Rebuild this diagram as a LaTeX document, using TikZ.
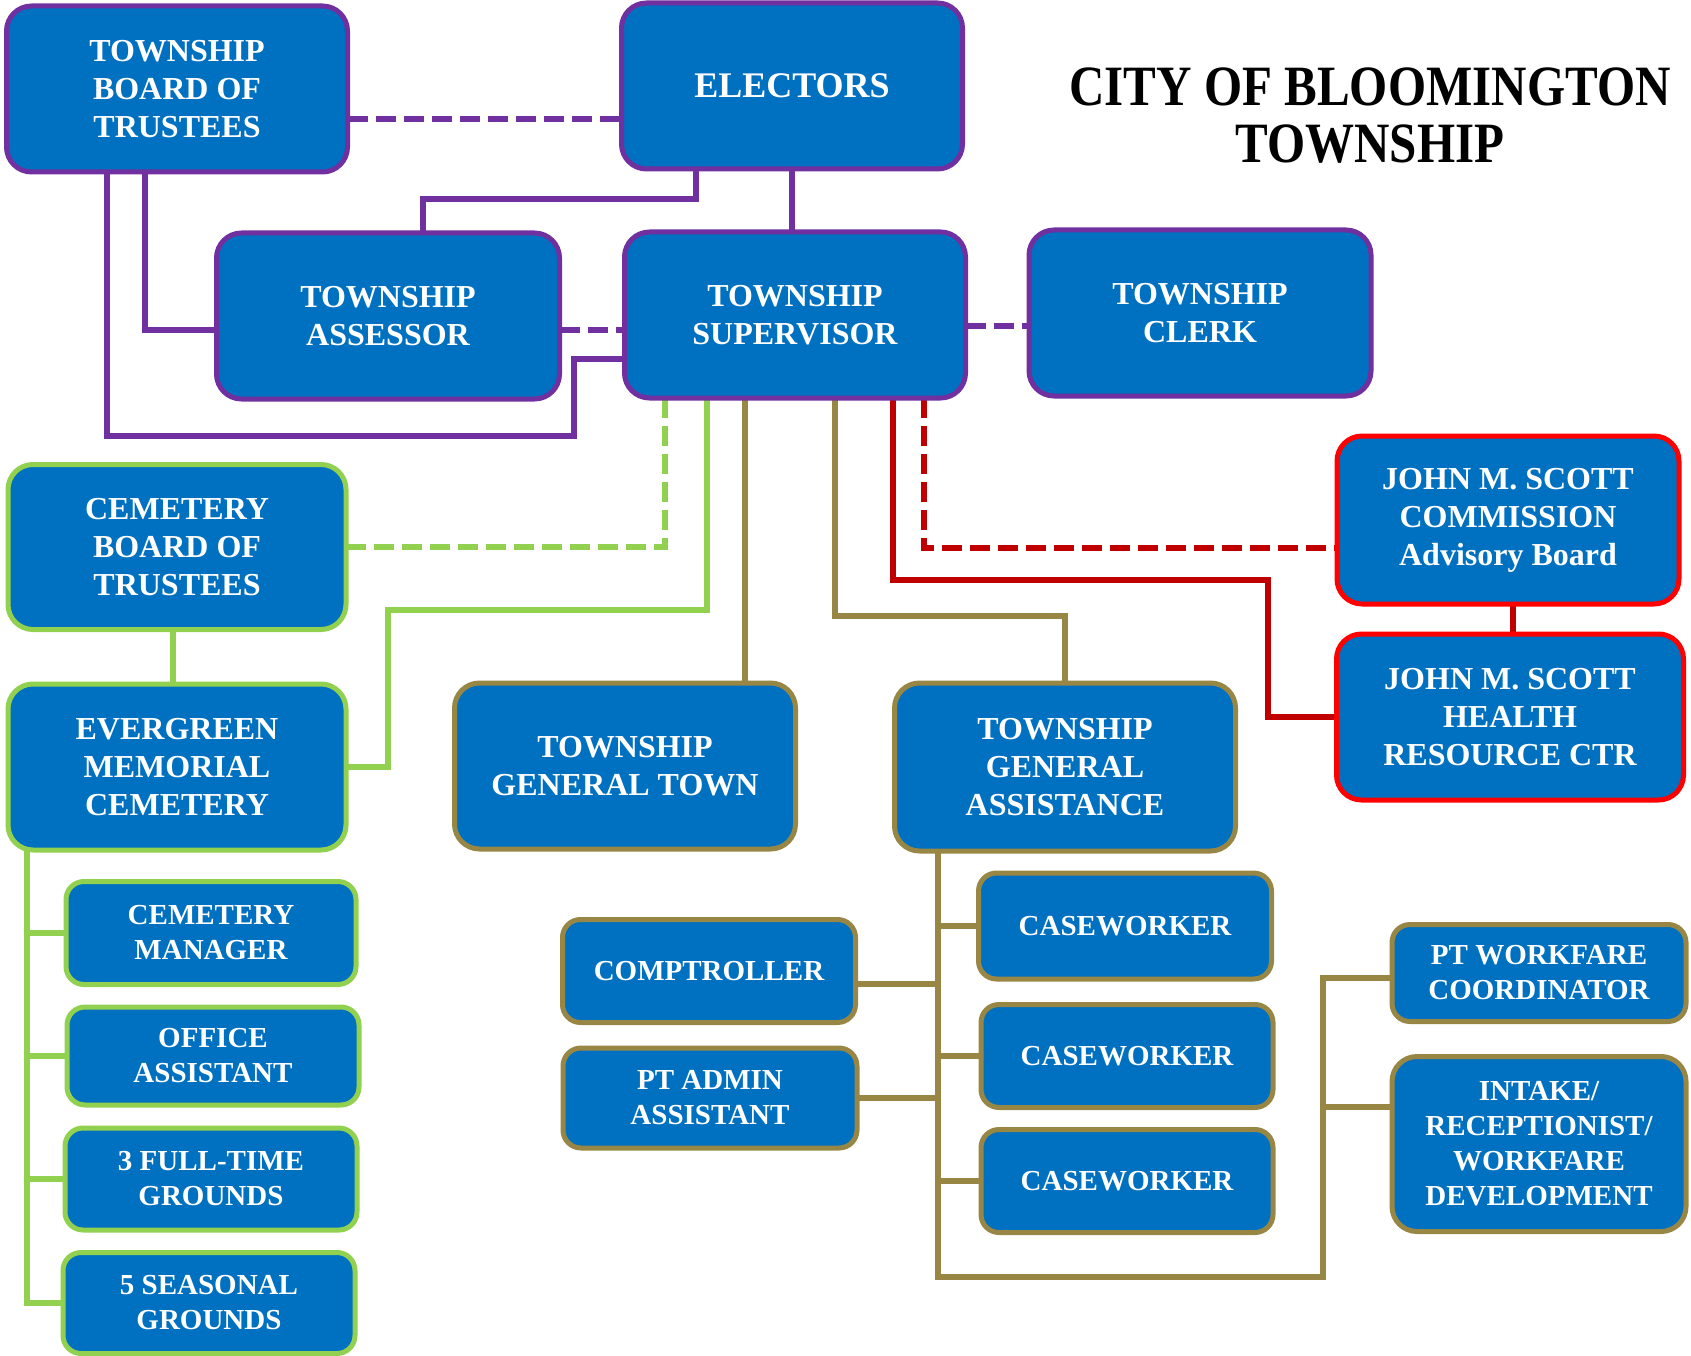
\documentclass[tikz,border=0pt]{standalone}
\usepackage{fontspec}
\setmainfont{Liberation Serif}
\newfontfamily\titlefont[FakeStretch=0.86]{Liberation Serif}
\usetikzlibrary{backgrounds}
\definecolor{boxblue}{RGB}{0,112,192}
\definecolor{bpurple}{RGB}{112,48,160}
\definecolor{bgreen}{RGB}{146,208,80}
\definecolor{bolive}{RGB}{152,134,68}
\definecolor{bred}{RGB}{255,0,0}
\definecolor{lred}{RGB}{192,0,0}
\tikzset{
  box/.style={draw, fill=boxblue, text=white, line width=5pt, rounded corners=25pt,
    minimum width=341pt, minimum height=166pt, align=center, inner sep=0pt, outer sep=0pt,
    font=\bfseries\fontsize{32}{38}\selectfont},
  small/.style={rounded corners=18pt, minimum width=292pt, minimum height=102pt,
    font=\bfseries\fontsize{29}{35}\selectfont},
  pbox/.style={box, draw=bpurple},
  gbox/.style={box, draw=bgreen},
  obox/.style={box, draw=bolive},
  rbox/.style={box, draw=bred},
  pline/.style={draw=bpurple, line width=6.5pt},
  gline/.style={draw=bgreen, line width=6.5pt},
  oline/.style={draw=bolive, line width=6.5pt},
  rline/.style={draw=lred, line width=6.5pt},
  dashline/.style={line width=6.5pt, dash pattern=on 20pt off 8pt}
}

\begin{document}
\begin{tikzpicture}[x=1pt,y=-1pt]
\useasboundingbox (0,0) rectangle (1691,1356);

\node [pbox] (board) at (177,89) {TOWNSHIP\\BOARD OF\\TRUSTEES};
\node [pbox, font=\bfseries\fontsize{36}{40}\selectfont] (electors) at (792,86) {ELECTORS};
\node [pbox, minimum width=343pt] (assessor) at (388,316) {TOWNSHIP\\ASSESSOR};
\node [pbox] (supervisor) at (795,315) {TOWNSHIP\\SUPERVISOR};
\node [pbox, minimum width=342pt] (clerk) at (1200,313) {TOWNSHIP\\CLERK};

\node [gbox, minimum width=338pt, minimum height=165pt] (cemboard) at (177,547) {CEMETERY\\BOARD OF\\TRUSTEES};
\node [gbox, minimum width=338pt] (evergreen) at (177,767) {EVERGREEN\\MEMORIAL\\CEMETERY};
\node [gbox, small, minimum width=290pt, minimum height=103pt] (cemmgr) at (211,933) {CEMETERY\\MANAGER};
\node [gbox, small, minimum height=98pt] (office) at (213,1056) {OFFICE\\ASSISTANT};
\node [gbox, small] (fulltime) at (211,1179) {3 FULL-TIME\\GROUNDS};
\node [gbox, small, minimum height=101pt] (seasonal) at (209,1303) {5 SEASONAL\\GROUNDS};

\node [obox] (gentown) at (625,766) {TOWNSHIP\\GENERAL TOWN};
\node [obox, minimum height=168pt] (genassist) at (1065,767) {TOWNSHIP\\GENERAL\\ASSISTANCE};
\node [obox, small, minimum width=293pt, minimum height=103pt] (comptroller) at (709,971) {COMPTROLLER};
\node [obox, small, minimum width=294pt, minimum height=100pt] (ptadmin) at (710,1098) {PT ADMIN\\ASSISTANT};
\node [obox, small, minimum width=293pt, minimum height=106pt] (case1) at (1125,926) {CASEWORKER};
\node [obox, small, minimum width=292pt, minimum height=103pt] (case2) at (1127,1056) {CASEWORKER};
\node [obox, small, minimum width=292pt, minimum height=103pt] (case3) at (1127,1181) {CASEWORKER};
\node [obox, small, minimum width=294pt, minimum height=97pt] (ptwork) at (1539,973) {PT WORKFARE\\COORDINATOR};
\node [obox, small, rounded corners=25pt, minimum width=294pt, minimum height=175pt] (intake) at (1539,1144) {INTAKE/\\RECEPTIONIST/\\WORKFARE\\DEVELOPMENT};

\node [rbox, minimum width=342pt, minimum height=168pt] (commission) at (1508,520) {JOHN M. SCOTT\\COMMISSION\\Advisory Board};
\node [rbox, minimum width=347pt] (health) at (1510,717) {JOHN M. SCOTT\\HEALTH\\RESOURCE CTR};

\node [align=center, font=\titlefont\bfseries\fontsize{57}{57}\selectfont] (title) at (1370,116) {CITY OF BLOOMINGTON\\TOWNSHIP};

\coordinate (loop) at (574,436);
\coordinate (gbend) at (388,610);
\coordinate (redbend) at (1268,580);
\coordinate (gabot) at (1323,1277);

\begin{scope}[on background layer]
\draw [pline, dashline] ([yshift=-30pt]board.east) -- ([yshift=-30pt]board.east -| electors.west);
\draw [pline] ([xshift=-96pt]electors.south) -- ++(0,30) -| ([xshift=35pt]assessor.north);
\draw [pline] (electors.south) -- (electors.south |- supervisor.north);
\draw [pline] ([xshift=-32pt]board.south) |- ([yshift=-14pt]assessor.west);
\draw [pline] ([xshift=-70pt]board.south) |- (loop) |- ([yshift=-44pt]supervisor.west);
\draw [pline, dashline] ([yshift=-14pt]assessor.east) -- ([yshift=-14pt]assessor.east -| supervisor.west);
\draw [pline, dashline] ([yshift=-11pt]supervisor.east) -- ([yshift=-11pt]supervisor.east -| clerk.west);

\draw [gline, dashline] ([xshift=-130pt]supervisor.south) |- (cemboard.east);
\draw [gline] ([xshift=-88pt]supervisor.south) |- (gbend) |- (evergreen.east);
\draw [gline] ([xshift=-4pt]cemboard.south) -- ([xshift=-4pt]evergreen.north);
\foreach \b in {cemmgr,office,fulltime,seasonal}
  \draw [gline] ([xshift=-150pt]evergreen.south) |- (\b.west);

\draw [oline] ([xshift=-50pt]supervisor.south) -- ([xshift=-50pt]supervisor.south |- gentown.north);
\draw [oline] ([xshift=40pt]supervisor.south) -- ++(0,218) -| (genassist.north);
\foreach \b in {case1,case2,case3}
  \draw [oline] ([xshift=-127pt]genassist.south) |- (\b.west);
\draw [oline] ([xshift=-127pt]genassist.south) |- ([yshift=-13pt]comptroller.east);
\draw [oline] ([xshift=-127pt]genassist.south) |- (ptadmin.east);
\draw [oline] ([xshift=-127pt]genassist.south) |- (gabot) |- ([yshift=-5pt]ptwork.west);
\draw [oline] (gabot) |- ([yshift=37pt]intake.west);

\draw [rline] ([xshift=98pt]supervisor.south) |- (redbend) |- (health.west);
\draw [rline, dashline] ([xshift=129pt]supervisor.south) |- ([yshift=-28pt]commission.west);
\draw [rline] ([xshift=5pt]commission.south) -- ([xshift=5pt]commission.south |- health.north);
\end{scope}
\end{tikzpicture}
\end{document}
